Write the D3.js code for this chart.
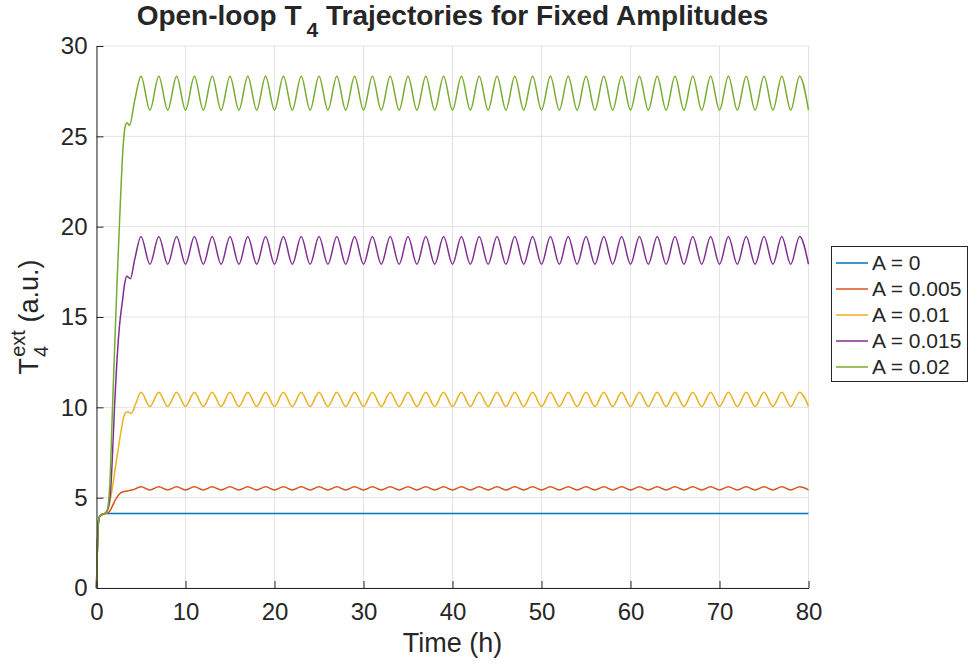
<!DOCTYPE html>
<html>
<head>
<meta charset="utf-8">
<script src="https://cdn.jsdelivr.net/npm/d3@7"></script>
<style>
  body { margin: 0; background: #fff; }
  text { font-family: "Liberation Sans", Arial, sans-serif; fill: #262626; }
</style>
</head>
<body>
<script>
// ---- data ----
var seriesNames = ["A = 0", "A = 0.005", "A = 0.01", "A = 0.015", "A = 0.02"];
var seriesColors = ["#0072BD", "#D95319", "#EDB120", "#7E2F8E", "#77AC30"];
var xTicks = [0, 10, 20, 30, 40, 50, 60, 70, 80];
var yTicks = [0, 5, 10, 15, 20, 25, 30];

// hours of the peaks and troughs of the steady oscillation
var cycleHours = [5, 6, 7, 8, 9, 10, 11, 12, 13, 14, 15, 16, 17, 18, 19, 20,
  21, 22, 23, 24, 25, 26, 27, 28, 29, 30, 31, 32, 33, 34, 35, 36, 37, 38, 39, 40,
  41, 42, 43, 44, 45, 46, 47, 48, 49, 50, 51, 52, 53, 54, 55, 56, 57, 58, 59, 60,
  61, 62, 63, 64, 65, 66, 67, 68, 69, 70, 71, 72, 73, 74, 75, 76, 77, 78, 79, 80];

// A = 0
var t0 = [0, 0.05, 0.12, 0.2, 0.3, 0.5, 0.8, 1.0, 80];
var v0 = [0, 1.2, 2.6, 3.5, 3.9, 4.03, 4.1, 4.12, 4.12];

// A = 0.005
var t1 = [0, 0.05, 0.12, 0.2, 0.3, 0.5, 0.8, 1.0, 1.4, 1.8, 2.2, 2.6, 3.0, 3.5, 4.0];
var v1 = [0, 1.2, 2.6, 3.5, 3.9, 4.03, 4.1, 4.12, 4.2, 4.55, 4.95, 5.22, 5.33, 5.37, 5.42];
var c1 = [5.6, 5.43, 5.6, 5.43, 5.6, 5.43, 5.6, 5.43, 5.6, 5.43, 5.6, 5.43, 5.6, 5.43, 5.6, 5.43,
  5.6, 5.43, 5.6, 5.43, 5.6, 5.43, 5.6, 5.43, 5.6, 5.43, 5.6, 5.43, 5.6, 5.43, 5.6, 5.43,
  5.6, 5.43, 5.6, 5.43, 5.6, 5.43, 5.6, 5.43, 5.6, 5.43, 5.6, 5.43, 5.6, 5.43, 5.6, 5.43,
  5.6, 5.43, 5.6, 5.43, 5.6, 5.43, 5.6, 5.43, 5.6, 5.43, 5.6, 5.43, 5.6, 5.43, 5.6, 5.43,
  5.6, 5.43, 5.6, 5.43, 5.6, 5.43, 5.6, 5.43, 5.6, 5.43, 5.6, 5.43];

// A = 0.01
var t2 = [0, 0.05, 0.12, 0.2, 0.3, 0.5, 0.8, 1.0, 1.3, 1.7, 2.1, 2.5, 2.8, 3.05, 3.3, 3.55, 3.9, 4.4];
var v2 = [0, 1.2, 2.6, 3.5, 3.9, 4.03, 4.1, 4.12, 4.4, 5.3, 6.6, 7.9, 8.8, 9.45, 9.72, 9.74, 9.66, 10.2];
var c2 = [10.83, 10.05, 10.83, 10.05, 10.83, 10.05, 10.83, 10.05, 10.83, 10.05, 10.83, 10.05,
  10.83, 10.05, 10.83, 10.05, 10.83, 10.05, 10.83, 10.05, 10.83, 10.05, 10.83, 10.05,
  10.83, 10.05, 10.83, 10.05, 10.83, 10.05, 10.83, 10.05, 10.83, 10.05, 10.83, 10.05,
  10.83, 10.05, 10.83, 10.05, 10.83, 10.05, 10.83, 10.05, 10.83, 10.05, 10.83, 10.05,
  10.83, 10.05, 10.83, 10.05, 10.83, 10.05, 10.83, 10.05, 10.83, 10.05, 10.83, 10.05,
  10.83, 10.05, 10.83, 10.05, 10.83, 10.05, 10.83, 10.05, 10.83, 10.05, 10.83, 10.05,
  10.83, 10.05, 10.83, 10.05];

// A = 0.015
var t3 = [0, 0.05, 0.12, 0.2, 0.3, 0.5, 0.8, 1.0, 1.3, 1.6, 1.85, 2.05, 2.3, 2.6, 2.92, 3.15, 3.4, 3.8, 4.3];
var v3 = [0, 1.2, 2.6, 3.5, 3.9, 4.03, 4.1, 4.15, 4.4, 5.5, 8.0, 10.3, 12.6, 14.6, 15.9, 16.8, 17.25, 17.12, 18.2];
var c3 = [19.45, 17.92, 19.45, 17.92, 19.45, 17.92, 19.45, 17.92, 19.45, 17.92, 19.45, 17.92,
  19.45, 17.92, 19.45, 17.92, 19.45, 17.92, 19.45, 17.92, 19.45, 17.92, 19.45, 17.92,
  19.45, 17.92, 19.45, 17.92, 19.45, 17.92, 19.45, 17.92, 19.45, 17.92, 19.45, 17.92,
  19.45, 17.92, 19.45, 17.92, 19.45, 17.92, 19.45, 17.92, 19.45, 17.92, 19.45, 17.92,
  19.45, 17.92, 19.45, 17.92, 19.45, 17.92, 19.45, 17.92, 19.45, 17.92, 19.45, 17.92,
  19.45, 17.92, 19.45, 17.92, 19.45, 17.92, 19.45, 17.92, 19.45, 17.92, 19.45, 17.92,
  19.45, 17.92, 19.45, 17.92];

// A = 0.02
var t4 = [0, 0.05, 0.12, 0.2, 0.3, 0.5, 0.8, 1.0, 1.2, 1.5, 1.8, 2.0, 2.3, 2.6, 3.0, 3.25, 3.45, 3.7, 4.3];
var v4 = [0, 1.2, 2.6, 3.5, 3.9, 4.03, 4.1, 4.15, 4.3, 5.8, 10.0, 12.8, 16.8, 20.4, 24.5, 25.6, 25.75, 25.6, 27.0];
var c4 = [28.33, 26.45, 28.33, 26.45, 28.33, 26.45, 28.33, 26.45, 28.33, 26.45, 28.33, 26.45,
  28.33, 26.45, 28.33, 26.45, 28.33, 26.45, 28.33, 26.45, 28.33, 26.45, 28.33, 26.45,
  28.33, 26.45, 28.33, 26.45, 28.33, 26.45, 28.33, 26.45, 28.33, 26.45, 28.33, 26.45,
  28.33, 26.45, 28.33, 26.45, 28.33, 26.45, 28.33, 26.45, 28.33, 26.45, 28.33, 26.45,
  28.33, 26.45, 28.33, 26.45, 28.33, 26.45, 28.33, 26.45, 28.33, 26.45, 28.33, 26.45,
  28.33, 26.45, 28.33, 26.45, 28.33, 26.45, 28.33, 26.45, 28.33, 26.45, 28.33, 26.45,
  28.33, 26.45, 28.33, 26.45];

var seriesT = [t0, t1.concat(cycleHours), t2.concat(cycleHours), t3.concat(cycleHours), t4.concat(cycleHours)];
var seriesV = [v0, v1.concat(c1), v2.concat(c2), v3.concat(c3), v4.concat(c4)];

// ---- layout ----
var W = 969, H = 668;
var plot = {left: 96.5, right: 808.5, top: 46, bottom: 588};

var svg = d3.select("body").append("svg")
    .attr("width", W)
    .attr("height", H);

var x = d3.scaleLinear().domain([0, 80]).range([plot.left, plot.right]);
var y = d3.scaleLinear().domain([0, 30]).range([plot.bottom, plot.top]);

// grid
svg.append("g").selectAll("line").data(xTicks).enter().append("line")
    .attr("x1", d => x(d)).attr("x2", d => x(d))
    .attr("y1", plot.top).attr("y2", plot.bottom)
    .attr("stroke", "#e3e3e3").attr("stroke-width", 1);
svg.append("g").selectAll("line").data(yTicks).enter().append("line")
    .attr("x1", plot.left).attr("x2", plot.right)
    .attr("y1", d => y(d)).attr("y2", d => y(d))
    .attr("stroke", "#e3e3e3").attr("stroke-width", 1);

// lines
var line = d3.line()
    .x(d => x(d[0]))
    .y(d => y(d[1]))
    .curve(d3.curveMonotoneX);

seriesNames.forEach(function(name, i) {
    var pts = seriesT[i].map((t, j) => [t, seriesV[i][j]]);
    svg.append("path")
        .datum(pts)
        .attr("d", line)
        .attr("fill", "none")
        .attr("stroke", seriesColors[i])
        .attr("stroke-width", 1.5);
});

// axes
var xAxis = svg.append("g")
    .attr("transform", "translate(0," + plot.bottom + ")")
    .call(d3.axisBottom(x).tickValues(xTicks).tickSizeInner(-7).tickSizeOuter(0).tickPadding(15));
var yAxis = svg.append("g")
    .attr("transform", "translate(" + plot.left + ",0)")
    .call(d3.axisLeft(y).tickValues(yTicks).tickSizeInner(-7).tickSizeOuter(0).tickPadding(9));

[xAxis, yAxis].forEach(function(a) {
    a.select(".domain").attr("stroke", "#262626").attr("stroke-width", 1);
    a.selectAll(".tick line").attr("stroke", "#262626");
    a.selectAll(".tick text")
        .attr("fill", "#262626")
        .style("font-size", "24px")
        .style("font-family", "'Liberation Sans', Arial, sans-serif");
});

// title
var title = svg.append("text")
    .attr("x", (plot.left + plot.right) / 2)
    .attr("y", 25)
    .attr("text-anchor", "middle")
    .style("font-size", "28px")
    .style("font-weight", "bold")
    .attr("fill", "#000");
title.append("tspan").text("Open-loop T");
title.append("tspan").attr("dx", 5).attr("dy", 12).style("font-size", "21px").text("4");
title.append("tspan").attr("dy", -12).text(" Trajectories for Fixed Amplitudes");

// x label
svg.append("text")
    .attr("x", (plot.left + plot.right) / 2)
    .attr("y", 652)
    .attr("text-anchor", "middle")
    .style("font-size", "27px")
    .text("Time (h)");

// y label
var ylab = svg.append("text")
    .attr("transform", "translate(38," + ((plot.top + plot.bottom) / 2) + ") rotate(-90)")
    .attr("text-anchor", "middle")
    .style("font-size", "27px");
ylab.append("tspan").text("T");
ylab.append("tspan").attr("dx", 1).attr("dy", 10).style("font-size", "20px").text("4");
ylab.append("tspan").attr("dx", -11).attr("dy", -23).style("font-size", "20px").text("ext");
ylab.append("tspan").attr("dy", 13).text(" (a.u.)");

// legend
var leg = svg.append("g");
leg.append("rect")
    .attr("x", 831.5).attr("y", 246.5)
    .attr("width", 136).attr("height", 135)
    .attr("fill", "#fff")
    .attr("stroke", "#262626").attr("stroke-width", 1);
var rowY = d3.scalePoint().domain(seriesNames).range([263, 367]);
seriesNames.forEach(function(name, i) {
    leg.append("line")
        .attr("x1", 836).attr("x2", 868)
        .attr("y1", rowY(name)).attr("y2", rowY(name))
        .attr("stroke", seriesColors[i]).attr("stroke-width", 1.5);
    leg.append("text")
        .attr("x", 872).attr("y", rowY(name))
        .attr("dy", "0.35em")
        .style("font-size", "21px")
        .attr("fill", "#000")
        .text(name);
});
</script>
</body>
</html>
